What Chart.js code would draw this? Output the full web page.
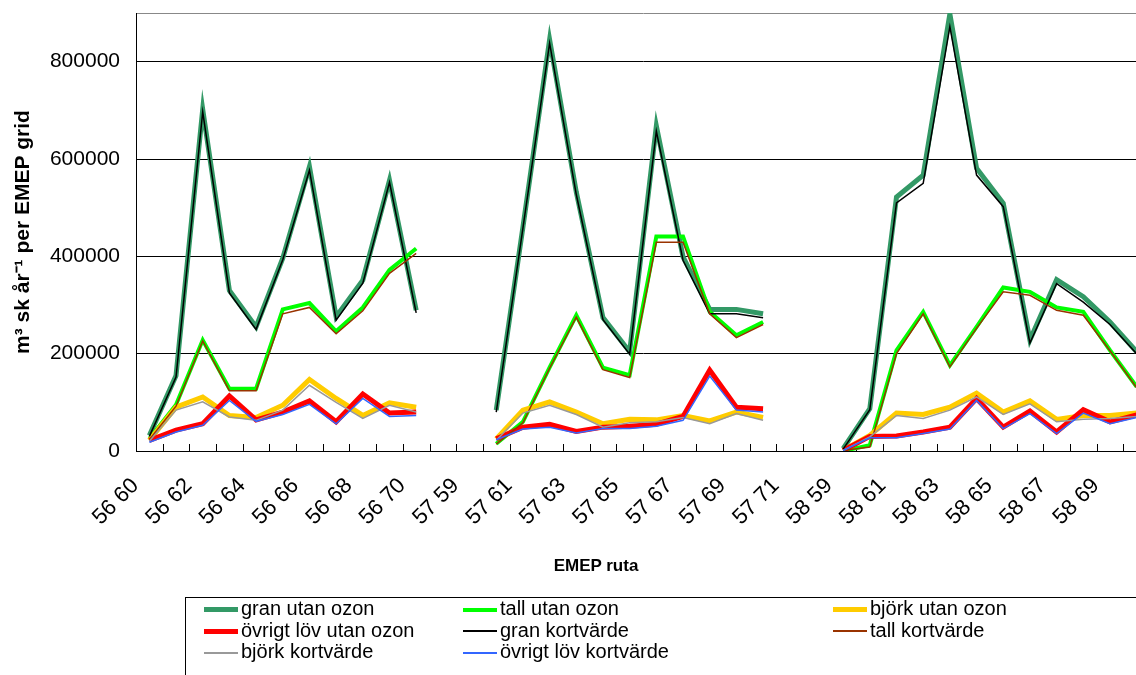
<!DOCTYPE html>
<html>
<head>
<meta charset="utf-8">
<script src="https://cdn.jsdelivr.net/npm/chart.js@4.4.1/dist/chart.umd.min.js"></script>
<style>
  html, body { margin: 0; padding: 0; background: #fff; overflow: hidden; width: 1136px; height: 675px; }
  #wrap { position: absolute; left: 0; top: 0; width: 1152px; height: 675px; }
  #xtitle { position: absolute; left: 496px; width: 200px; top: 556px; text-align: center;
            font: bold 17px "Liberation Sans", Arial, sans-serif; color: #000; }
  #legend { position: absolute; left: 185px; top: 597px; width: 1000px; height: 90px; border: 1px solid #000;
            font-family: "Liberation Sans", Arial, sans-serif; font-size: 20px; color: #000; }
  .item { position: absolute; height: 21px; line-height: 21px; white-space: nowrap; }
  .swatch { display: inline-block; width: 34px; vertical-align: middle; margin-right: 3px; }
</style>
</head>
<body>
<div id="wrap"><canvas id="myLineChart" width="1152" height="675"></canvas></div>
<div id="xtitle">EMEP ruta</div>
<div id="legend"></div>
<script>
var FONT = "'Liberation Sans', Arial, sans-serif";

// EMEP grid squares (gaps between the three blocks have no data)
var categories = ["56 60","56 61","56 62","56 63","56 64","56 65","56 66","56 67","56 68","56 69","56 70","56 71",
  "57 59","57 60","57 61","57 62","57 63","57 64","57 65","57 66","57 67","57 68","57 69","57 70","57 71","57 72",
  "58 59","58 60","58 61","58 62","58 63","58 64","58 65","58 66","58 67","58 68","58 69","58 70"];

var granUtan = [32000,155000,702000,330000,255000,396000,584000,276000,351000,556000,289000, null,null,
  84000,460000,845000,532000,274000,204000,668000,399000,291000,291000,282000, null,null,
  5000,87000,522000,567000,898000,581000,509000,228000,352000,317000,265000,204000];
var tallUtan = [25000,95000,228000,128000,128000,291000,304000,246000,295000,372000,416000, null,null,
  15000,60000,172000,279000,171000,156000,441000,441000,286000,238000,265000, null,null,
  0,12000,207000,286000,176000,255000,336000,327000,295000,286000,207000,132000];
var bjorkUtan = [22000,90000,111000,73000,69000,94000,147000,108000,73000,99000,90000, null,null,
  25000,84000,101000,80000,56000,65000,64000,73000,62000,80000,69000, null,null,
  1000,32000,78000,75000,90000,119000,80000,103000,65000,73000,73000,78000];
var ovrigtUtan = [22000,43000,56000,113000,64000,80000,103000,60000,117000,78000,80000, null,null,
  25000,49000,55000,40000,49000,51000,55000,71000,166000,90000,87000, null,null,
  1000,30000,31000,39000,49000,108000,49000,82000,39000,85000,60000,74000];
var granKort = [30000,152000,697000,325000,250000,393000,577000,269000,345000,552000,284000, null,null,
  80000,458000,838000,527000,270000,199000,657000,392000,282000,282000,274000, null,null,
  4000,85000,510000,550000,872000,567000,502000,222000,344000,306000,260000,200000];
var tallKort = [23000,92000,226000,124000,124000,282000,295000,241000,288000,365000,406000, null,null,
  14000,58000,170000,275000,167000,151000,429000,429000,282000,233000,260000, null,null,
  1000,8000,200000,282000,173000,252000,327000,320000,289000,279000,206000,130000];
var bjorkKort = [20000,84000,101000,70000,63000,84000,135000,100000,67000,94000,80000, null,null,
  22000,78000,94000,75000,49000,58000,60000,69000,56000,77000,63000, null,null,
  1000,29000,73000,67000,84000,111000,75000,97000,60000,65000,67000,71000];
var ovrigtKort = [18000,39000,53000,104000,61000,75000,96000,56000,108000,71000,73000, null,null,
  23000,45000,49000,37000,46000,46000,51000,63000,154000,84000,80000, null,null,
  1000,27000,27000,36000,45000,104000,46000,77000,36000,78000,56000,69000];

var yTicks = [0, 200000, 400000, 600000, 800000];
var yMax = 900000;

function line(label, data, color, width, order) {
  return { label: label, data: data, borderColor: color, backgroundColor: color,
           borderWidth: width, pointRadius: 0, fill: false, tension: 0, order: order };
}

var datasets = [
  line("gran utan ozon", granUtan, "#339966", 5, 8),
  line("tall utan ozon", tallUtan, "#00FF00", 4, 7),
  line("björk utan ozon", bjorkUtan, "#FFCC00", 5, 6),
  line("övrigt löv utan ozon", ovrigtUtan, "#FF0000", 5, 5),
  line("gran kortvärde", granKort, "#000000", 1.5, 4),
  line("tall kortvärde", tallKort, "#993300", 1.5, 3),
  line("björk kortvärde", bjorkKort, "#999999", 1.5, 2),
  line("övrigt löv kortvärde", ovrigtKort, "#3366FF", 1.5, 1)
];

// small tick marks pointing into the plot, between categories
var innerTicks = {
  id: 'innerTicks',
  beforeDatasetsDraw: function(chart) {
    var x = chart.scales.x, ctx = chart.ctx, base = chart.chartArea.bottom;
    var half = (x.getPixelForTick(1) - x.getPixelForTick(0)) / 2;
    ctx.save();
    ctx.strokeStyle = '#000';
    ctx.lineWidth = 1;
    ctx.beginPath();
    for (var i = 0; i <= categories.length; i++) {
      var px = Math.round(x.getPixelForValue(0) - half + i * 2 * half) + 0.5;
      ctx.moveTo(px, base);
      ctx.lineTo(px, base - 7);
    }
    ctx.stroke();
    ctx.restore();
  }
};

var chart = new Chart(document.getElementById("myLineChart"), {
  type: 'line',
  data: { labels: categories, datasets: datasets },
  options: {
    responsive: false,
    animation: false,
    devicePixelRatio: 1,
    spanGaps: false,
    layout: { padding: { top: 13, right: 2, bottom: 97, left: 0 } },
    plugins: { legend: { display: false }, tooltip: { enabled: false } },
    scales: {
      x: {
        offset: true,
        grid: { display: false },
        border: { display: true, color: '#000', width: 1 },
        ticks: {
          autoSkip: false, minRotation: 45, maxRotation: 45, padding: 14, labelOffset: -14,
          color: '#000', font: { family: FONT, size: 22 },
          callback: function(v, i) { return i % 2 === 0 ? categories[i] : ''; }
        },
        afterFit: function(s) { s.height = 127; s.paddingLeft = 0; s.paddingRight = 0; }
      },
      y: {
        min: 0, max: yMax,
        afterBuildTicks: function(s) {
          s.ticks = yTicks.concat([yMax]).map(function(v) { return { value: v }; });
        },
        ticks: {
          color: '#000', padding: 16, font: { family: FONT, size: 21 },
          callback: function(v) { return v === yMax ? '' : String(v); }
        },
        grid: { drawTicks: false, color: function(c) { return c.tick && c.tick.value === yMax ? '#888' : '#000'; } },
        border: { color: '#000', width: 1 },
        title: { display: true, text: 'm³ sk år⁻¹ per EMEP grid', color: '#000',
                 font: { family: FONT, size: 21, weight: 'bold' }, padding: { top: 11, bottom: 0 } },
        afterFit: function(s) { s.width = 136; s.paddingTop = 0; s.paddingBottom = 0; }
      }
    }
  },
  plugins: [innerTicks]
});

// legend: three columns, row-major like the original
var legend = document.getElementById('legend');
var colLeft = [18, 277, 647];
datasets.forEach(function(ds, i) {
  var item = document.createElement('div');
  item.className = 'item';
  item.style.left = colLeft[i % 3] + 'px';
  item.style.top = (0 + Math.floor(i / 3) * 21.5) + 'px';
  var sw = document.createElement('span');
  sw.className = 'swatch';
  sw.style.height = (ds.borderWidth > 2 ? ds.borderWidth : 2) + 'px';
  sw.style.background = ds.borderColor;
  item.appendChild(sw);
  item.appendChild(document.createTextNode(ds.label));
  legend.appendChild(item);
});
</script>
</body>
</html>
